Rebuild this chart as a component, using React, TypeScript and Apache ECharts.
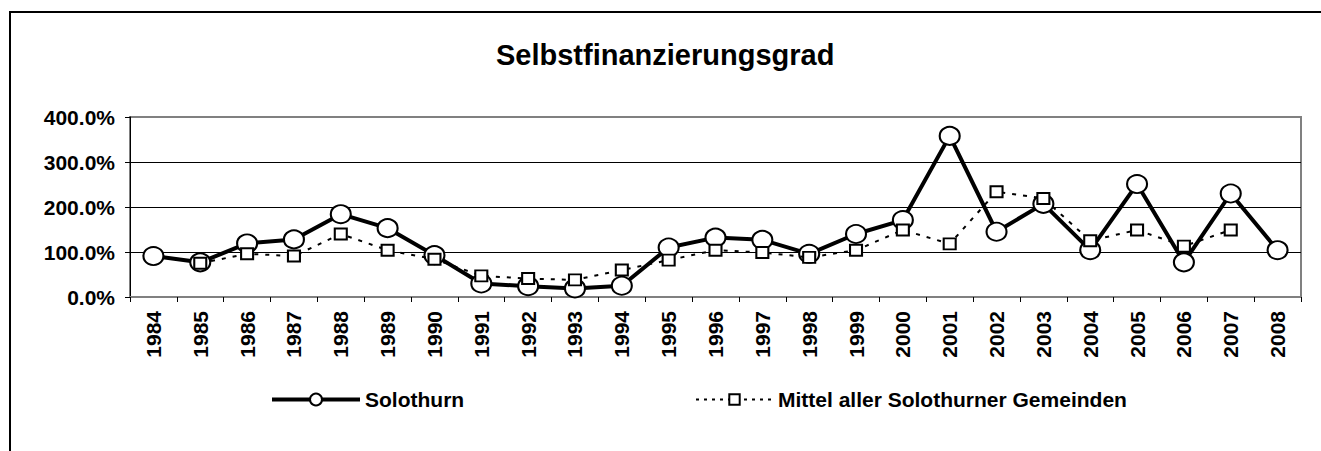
import React, { useEffect, useRef } from "react";
import * as echarts from "echarts";

const years: string[] = [
  "1984", "1985", "1986", "1987", "1988", "1989", "1990", "1991", "1992", "1993",
  "1994", "1995", "1996", "1997", "1998", "1999", "2000", "2001", "2002", "2003",
  "2004", "2005", "2006", "2007", "2008",
];

const solothurn: (number | null)[] = [
  91, 77, 119, 128, 184, 153, 93, 30, 24, 19,
  25, 110, 132, 127, 96, 140, 171, 358, 145, 207,
  104, 251, 77, 230, 104,
];

const mittel: (number | null)[] = [
  null, 75, 96, 91, 140, 104, 84, 47, 41, 38,
  60, 82, 104, 99, 88, 104, 149, 118, 234, 219,
  125, 149, 113, 149, null,
];

const titleText = "Selbstfinanzierungsgrad";
const seriesNames = ["Solothurn", "Mittel aller Solothurner Gemeinden"];

const FONT = "'Liberation Sans', Arial, sans-serif";

export default function App() {
  const ref = useRef<HTMLDivElement>(null);

  useEffect(() => {
    if (!ref.current) return;
    const chart = echarts.init(ref.current, undefined, { renderer: "svg" });
    chart.setOption({
      animation: false,
      backgroundColor: "#ffffff",
      title: {
        text: titleText,
        left: 496,
        top: 40,
        padding: 0,
        textStyle: { fontFamily: FONT, fontWeight: "bold", fontSize: 29, color: "#000" },
      },
      graphic: [
        {
          type: "line",
          silent: true,
          shape: { x1: 10, y1: 12, x2: 1321, y2: 12 },
          style: { stroke: "#000", lineWidth: 2 },
        },
        {
          type: "line",
          silent: true,
          shape: { x1: 10, y1: 11, x2: 10, y2: 451 },
          style: { stroke: "#000", lineWidth: 2 },
        },
      ],
      legend: [
        {
          data: [{ name: seriesNames[0], lineStyle: { width: 4 } }],
          left: 270,
          top: 389,
          padding: 0,
          itemWidth: 88,
          itemHeight: 15,
          textStyle: { fontFamily: FONT, fontWeight: "bold", fontSize: 21, color: "#000" },
        },
        {
          data: [{ name: seriesNames[1], lineStyle: { type: [3, 5], width: 2 } }],
          left: 695,
          top: 389,
          padding: 0,
          itemWidth: 77,
          itemHeight: 13,
          textStyle: { fontFamily: FONT, fontWeight: "bold", fontSize: 21, color: "#000" },
        },
      ],
      grid: {
        left: 130,
        right: 20,
        top: 117,
        bottom: 154,
        show: true,
        borderColor: "#808080",
        borderWidth: 2,
      },
      xAxis: {
        type: "category",
        data: years,
        boundaryGap: true,
        axisLine: { show: true, lineStyle: { color: "#808080", width: 2 } },
        axisTick: { show: true, alignWithLabel: false, length: 5, lineStyle: { color: "#000" } },
        axisLabel: {
          rotate: 90,
          margin: 14,
          fontFamily: FONT,
          fontWeight: "bold",
          fontSize: 21,
          color: "#000",
        },
      },
      yAxis: {
        type: "value",
        min: 0,
        max: 400,
        interval: 100,
        axisLine: { show: true, lineStyle: { color: "#000", width: 1 } },
        axisTick: { show: true, length: 5, lineStyle: { color: "#000" } },
        axisLabel: {
          margin: 15,
          fontFamily: FONT,
          fontWeight: "bold",
          fontSize: 21,
          color: "#000",
          formatter: (v: number) => v.toFixed(1) + "%",
        },
        splitLine: {
          show: true,
          lineStyle: { color: ["#000", "#000", "#000", "#000", "#808080"], width: 1 },
        },
      },
      series: [
        {
          name: seriesNames[0],
          type: "line",
          data: solothurn,
          symbol: "circle",
          symbolSize: [20, 18],
          z: 2,
          lineStyle: { color: "#000", width: 4 },
          itemStyle: { color: "#fff", borderColor: "#000", borderWidth: 2 },
        },
        {
          name: seriesNames[1],
          type: "line",
          data: mittel,
          symbol: "rect",
          symbolSize: [12, 11],
          z: 3,
          lineStyle: { color: "#000", width: 2, type: [4, 7] },
          itemStyle: { color: "#fff", borderColor: "#000", borderWidth: 2 },
        },
      ],
    });
    return () => chart.dispose();
  }, []);

  return (
    <div
      ref={ref}
      style={{ position: "fixed", left: 0, top: 0, width: 1321, height: 451 }}
    />
  );
}
